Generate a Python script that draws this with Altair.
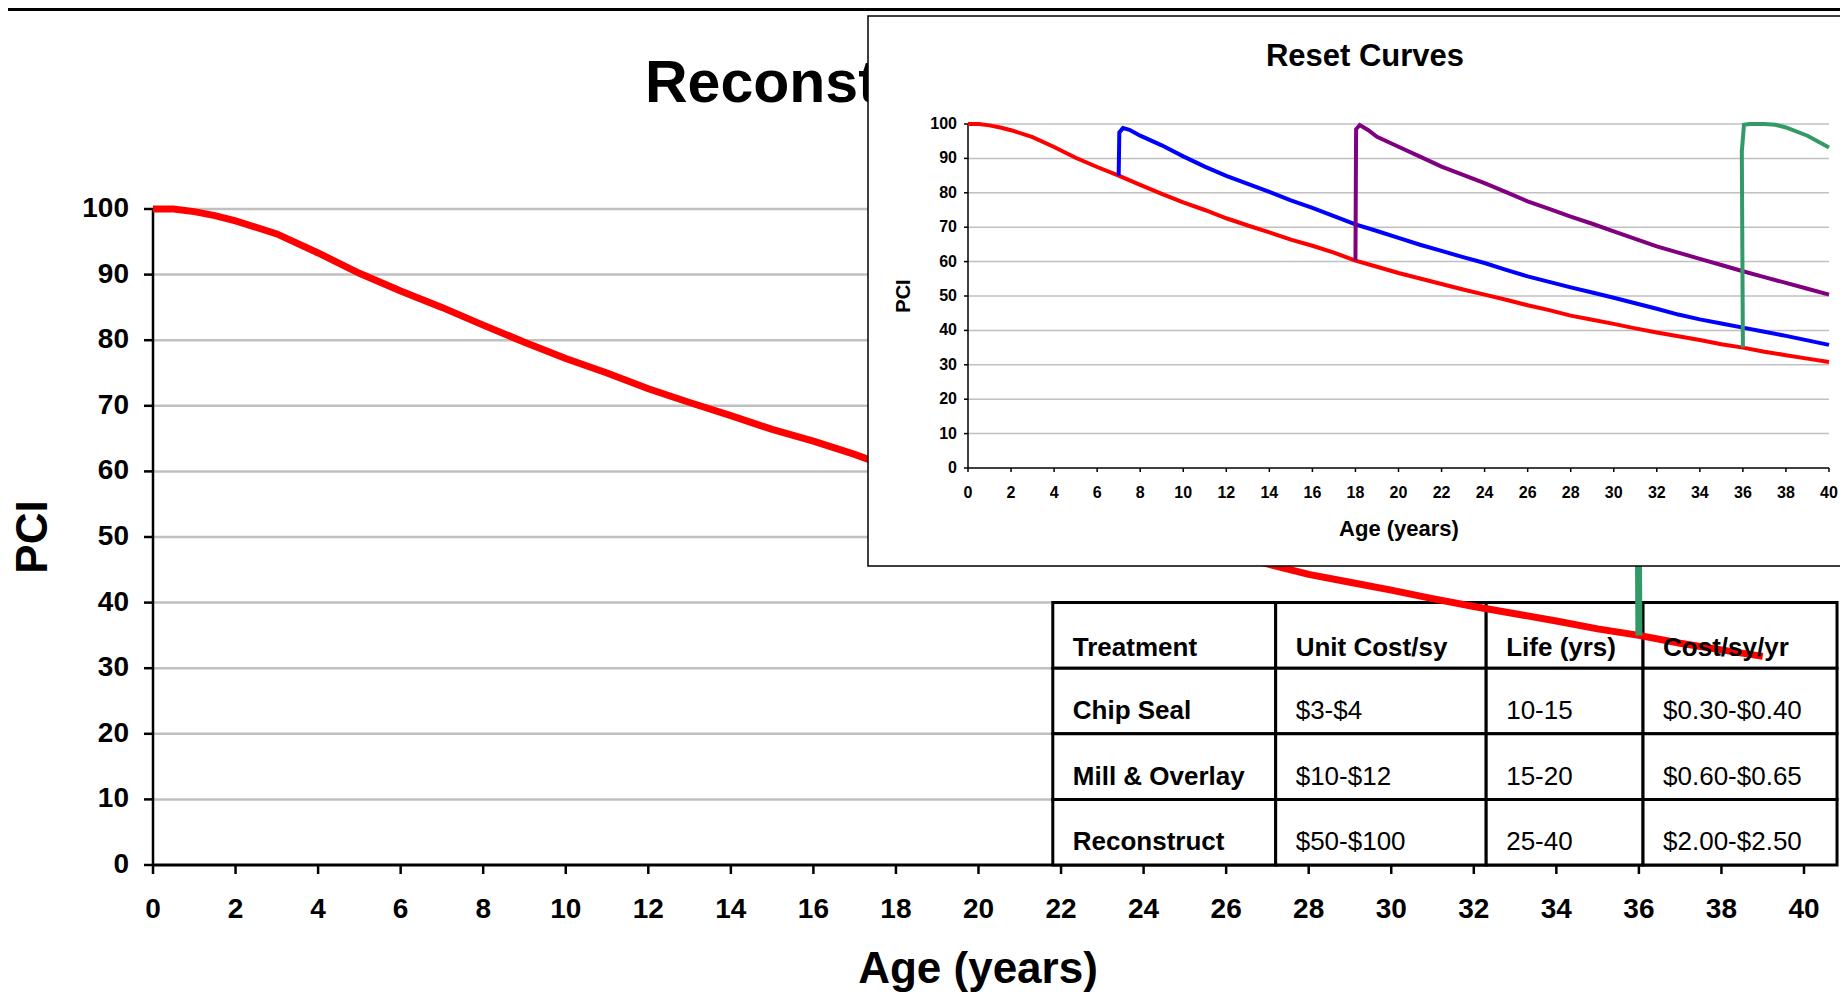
import altair as alt
import pandas as pd

# ---------------- data ----------------
MAIN_TITLE = "Reconstruct Curve"
INSET_TITLE = "Reset Curves"
X_TITLE = "Age (years)"
Y_TITLE = "PCI"

SERIES_NAMES = ["Do Nothing", "Chip Seal", "Mill & Overlay", "Reconstruct"]
SERIES_COLORS = ["#FF0000", "#0000FF", "#800080", "#339966"]

red_age = [0, 0.5, 1, 1.5, 2, 3, 4, 5, 6, 7, 8, 9, 10, 11, 12, 13, 14, 15, 16, 17, 18, 19, 20,
           21, 22, 23, 24, 25, 26, 27, 28, 29, 30, 31, 32, 33, 34, 35, 36, 37, 38, 39, 40]
red_pci = [100, 100, 99.6, 99.0, 98.2, 96.2, 93.3, 90.2, 87.5, 85.0, 82.3, 79.7, 77.2, 75.0,
           72.6, 70.5, 68.5, 66.4, 64.6, 62.6, 60.3, 58.5, 56.7, 55.1, 53.5, 51.9, 50.4, 48.9,
           47.3, 45.9, 44.3, 43.1, 41.9, 40.6, 39.4, 38.3, 37.2, 36.0, 35.0, 33.8, 32.8, 31.8, 30.8]

blue_age = [7.0, 7.03, 7.2, 7.5, 8, 9, 10, 11, 12, 13, 14, 15, 16, 17, 18, 19, 20, 21, 22, 23,
            24, 25, 26, 27, 28, 29, 30, 31, 32, 33, 34, 35, 36, 37, 38, 39, 40]
blue_pci = [85.0, 97.5, 98.8, 98.3, 96.6, 93.8, 90.6, 87.6, 84.9, 82.6, 80.3, 77.8, 75.6, 73.2,
            70.8, 68.9, 66.9, 64.9, 63.1, 61.3, 59.6, 57.6, 55.7, 54.1, 52.5, 51.0, 49.5, 47.9,
            46.3, 44.6, 43.2, 42.0, 40.8, 39.6, 38.4, 37.1, 35.8]

purple_age = [18.0, 18.03, 18.2, 18.6, 19, 20, 21, 22, 23, 24, 25, 26, 27, 28, 29, 30, 31, 32,
              33, 34, 35, 36, 37, 38, 39, 40]
purple_pci = [60.3, 98.5, 99.7, 98.2, 96.3, 93.4, 90.5, 87.6, 85.2, 82.8, 80.2, 77.5, 75.3, 73.1,
              71.0, 68.8, 66.6, 64.4, 62.6, 60.8, 59.0, 57.2, 55.5, 53.8, 52.1, 50.4]

green_age = [36.0, 35.95, 36.05, 36.3, 37.0, 37.5, 38, 39, 40]
green_pci = [35.0, 92.0, 99.8, 100, 100, 99.8, 99.0, 96.6, 93.2]

MAIN_RED_END = 39  # main chart red curve stops here

x_ticks = list(range(0, 41, 2))
y_ticks = list(range(0, 101, 10))

TABLE_HEADER = ["Treatment", "Unit Cost/sy", "Life (yrs)", "Cost/sy/yr"]
TREATMENTS = ["Chip Seal", "Mill & Overlay", "Reconstruct"]
UNIT_COST = ["$3-$4", "$10-$12", "$50-$100"]
LIFE = ["10-15", "15-20", "25-40"]
COST_PER_YEAR = ["$0.30-$0.40", "$0.60-$0.65", "$2.00-$2.50"]

# ---------------- layout (pixels relative to the main plot origin) ----------------
FONT = "Liberation Sans"
PLOT_W, PLOT_H = 1651, 656
PAD = {"left": 145, "top": 201, "right": 36, "bottom": 132}
TABLE_COL_EDGES = [21.8, 27.2, 32.3, 36.1, 40.8]   # in main age units
TABLE_ROW_EDGES = [40, 30, 20, 10, 0]              # in main PCI units
INSET_X_RANGE = [815, 1676]
INSET_Y_RANGE = [259, -85]
GRID = "#C0C0C0"

# ---------------- frames ----------------
def series_df(name, ages, pcis):
    return pd.DataFrame({"series": name, "age": ages, "pci": pcis, "idx": range(len(ages))})

curves = pd.concat([
    series_df(SERIES_NAMES[0], red_age, red_pci),
    series_df(SERIES_NAMES[1], blue_age, blue_pci),
    series_df(SERIES_NAMES[2], purple_age, purple_pci),
    series_df(SERIES_NAMES[3], green_age, green_pci),
], ignore_index=True)

table_rows = [TABLE_HEADER] + [list(r) for r in zip(TREATMENTS, UNIT_COST, LIFE, COST_PER_YEAR)]
cells, texts = [], []
for r, row in enumerate(table_rows):
    for c, txt_ in enumerate(row):
        x0, x1 = TABLE_COL_EDGES[c], TABLE_COL_EDGES[c + 1]
        y0, y1 = TABLE_ROW_EDGES[r], TABLE_ROW_EDGES[r + 1]
        cells.append({"x0": x0, "x1": x1, "y0": y0, "y1": y1})
        texts.append({"tx": x0, "ty": (y0 + y1) / 2, "text": txt_,
                      "bold": (r == 0 or c == 0), "head": r == 0})
cells_df = pd.DataFrame(cells)
texts_df = pd.DataFrame(texts)
xt_df = pd.DataFrame({"v": x_ticks, "lab": [str(v) for v in x_ticks]})
yt_df = pd.DataFrame({"v": y_ticks, "lab": [str(v) for v in y_ticks]})
one = pd.DataFrame({"a": [0]})

color_scale = alt.Scale(domain=SERIES_NAMES, range=SERIES_COLORS)


def txt(text, x, y, size, angle=0, align="center", baseline="middle", weight="bold"):
    kw = dict(align=align, baseline=baseline, font=FONT, fontSize=size,
              fontWeight=weight, color="black")
    if angle:
        kw["angle"] = angle
    return alt.Chart(pd.DataFrame({"t": [text]})).mark_text(**kw).encode(
        text="t:N", x=alt.value(x), y=alt.value(y))


def axes_layers(xs, ys, x_px0, y_px0, tick, dom_w_x, dom_w_y, tick_w, lab_size,
                x_lab_y, y_lab_x, grid_w):
    """Axis pieces drawn through the given scales."""
    grid = alt.Chart(yt_df).transform_filter("datum.v > 0").mark_rule(
        color=GRID, strokeWidth=grid_w).encode(
        y=alt.Y("v:Q", scale=ys, axis=None),
        x=alt.XDatum(0, scale=xs, axis=None), x2=alt.X2Datum(40))
    ydom = alt.Chart(one).mark_rule(color="black", strokeWidth=dom_w_y).encode(
        x=alt.XDatum(0, scale=xs, axis=None),
        y=alt.YDatum(0, scale=ys, axis=None), y2=alt.Y2Datum(100))
    xdom = alt.Chart(one).mark_rule(color="black", strokeWidth=dom_w_x).encode(
        y=alt.YDatum(0, scale=ys, axis=None),
        x=alt.XDatum(0, scale=xs, axis=None), x2=alt.X2Datum(40))
    yticks = alt.Chart(yt_df).mark_rule(color="black", strokeWidth=tick_w).encode(
        y=alt.Y("v:Q", scale=ys, axis=None),
        x=alt.value(x_px0 - tick), x2=alt.value(x_px0))
    xticks = alt.Chart(xt_df).mark_rule(color="black", strokeWidth=tick_w).encode(
        x=alt.X("v:Q", scale=xs, axis=None),
        y=alt.value(y_px0), y2=alt.value(y_px0 + tick))
    ylabs = alt.Chart(yt_df).mark_text(
        align="right", baseline="middle", font=FONT, fontSize=lab_size,
        fontWeight="bold", color="black").encode(
        y=alt.Y("v:Q", scale=ys, axis=None), x=alt.value(y_lab_x), text="lab:N")
    xlabs = alt.Chart(xt_df).mark_text(
        align="center", baseline="middle", font=FONT, fontSize=lab_size,
        fontWeight="bold", color="black").encode(
        x=alt.X("v:Q", scale=xs, axis=None), y=alt.value(x_lab_y), text="lab:N")
    return [grid, ydom, xdom, yticks, xticks, ylabs, xlabs]


# ---------------- main chart ----------------
main_x = alt.Scale(domain=[0, 40])
main_y = alt.Scale(domain=[0, 100])

main_axes = axes_layers(main_x, main_y, 0, PLOT_H, 9, 3, 2.5, 2.5, 28,
                        PLOT_H + 45, -24, 2.5)

top_line = alt.Chart(one).mark_rule(color="black", strokeWidth=3).encode(
    x=alt.value(-145), x2=alt.value(1687), y=alt.value(-199.5))

main_lines = alt.Chart(curves).transform_filter(
    f"(datum.series == '{SERIES_NAMES[0]}' && datum.age <= {MAIN_RED_END}) || datum.series == '{SERIES_NAMES[3]}'"
).mark_line(strokeWidth=7).encode(
    x=alt.X("age:Q", scale=main_x, axis=None),
    y=alt.Y("pci:Q", scale=main_y, axis=None),
    color=alt.Color("series:N", scale=color_scale, legend=None),
    detail="series:N",
    order=alt.Order("idx:Q"),
)

table_rect = alt.Chart(cells_df).mark_rect(
    fill="white", stroke="black", strokeWidth=3).encode(
    x=alt.X("x0:Q", scale=main_x, axis=None), x2="x1:Q",
    y=alt.Y("y0:Q", scale=main_y, axis=None), y2="y1:Q")


def table_text(bold, head):
    flt = ("datum.bold" if bold else "!datum.bold") + (" && datum.head" if head else " && !datum.head")
    return alt.Chart(texts_df).transform_filter(flt).mark_text(
        align="left", baseline="middle", dx=20, dy=13 if head else 10, font=FONT,
        fontSize=26, fontWeight="bold" if bold else "normal", color="black").encode(
        x=alt.X("tx:Q", scale=main_x, axis=None),
        y=alt.Y("ty:Q", scale=main_y, axis=None),
        text="text:N")


main_layer = alt.layer(
    *main_axes,
    txt(MAIN_TITLE, 492, -107, 59, align="left", baseline="alphabetic"),
    txt(Y_TITLE, -119, 328, 44, angle=270),
    txt(X_TITLE, 825, 761, 44),
    top_line, table_rect, main_lines,
    table_text(True, True), table_text(True, False), table_text(False, False),
)

# ---------------- inset chart ----------------
inset_x = alt.Scale(domain=[0, 40], range=INSET_X_RANGE)
inset_y = alt.Scale(domain=[0, 100], range=INSET_Y_RANGE)

inset_box = alt.Chart(one).mark_rect(
    fill="white", stroke="black", strokeWidth=1.5).encode(
    x=alt.value(715), x2=alt.value(1700), y=alt.value(-193), y2=alt.value(357))

inset_axes = axes_layers(inset_x, inset_y, INSET_X_RANGE[0], INSET_Y_RANGE[0], 4, 1.5, 1.5,
                         1.5, 16, INSET_Y_RANGE[0] + 25, INSET_X_RANGE[0] - 11, 1.5)

inset_lines = alt.Chart(curves).mark_line(strokeWidth=4).encode(
    x=alt.X("age:Q", scale=inset_x, axis=None),
    y=alt.Y("pci:Q", scale=inset_y, axis=None),
    color=alt.Color("series:N", scale=color_scale, legend=None),
    detail="series:N",
    order=alt.Order("idx:Q"),
)

inset_layer = alt.layer(
    inset_box,
    txt(INSET_TITLE, 1212, -152, 31),
    txt(Y_TITLE, 751, 87, 20, angle=270),
    txt(X_TITLE, 1246, 320, 22),
    *inset_axes,
    inset_lines,
)

chart = alt.layer(main_layer, inset_layer).resolve_scale(
    x="independent", y="independent"
).properties(
    width=PLOT_W, height=PLOT_H, padding=PAD,
    autosize=alt.AutoSizeParams(type="none"), background="white"
).configure_view(stroke=None)

chart.save("out.html", embed_options={"renderer": "svg", "actions": False})
